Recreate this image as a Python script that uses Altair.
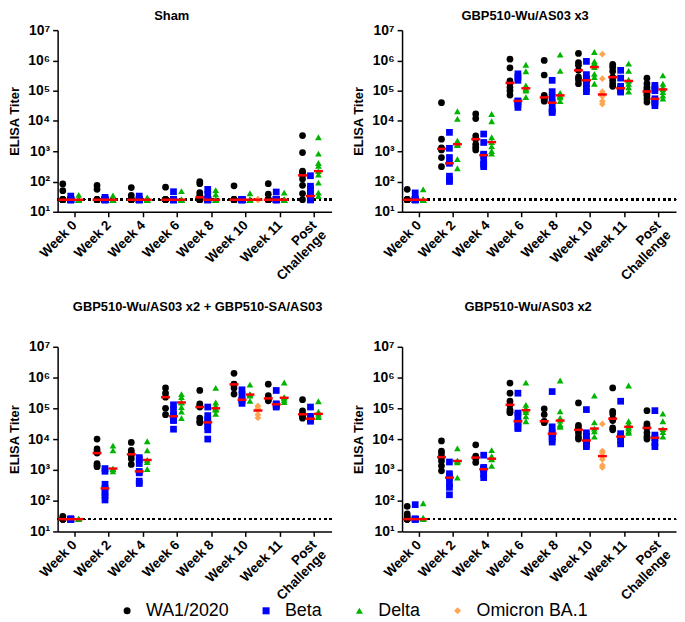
import altair as alt
import pandas as pd

WEEKS = ["Week 0", "Week 2", "Week 4", "Week 6", "Week 8", "Week 10", "Week 11", "Post Challenge"]
VARIANTS = ["WA1/2020", "Beta", "Delta", "Omicron BA.1"]
COLORS = ["#000000", "#0000FF", "#00B400", "#FFA552"]
SHAPES = ["circle", "square", "triangle-up", "diamond"]
TITLES = ["Sham", "GBP510-Wu/AS03 x3", "GBP510-Wu/AS03 x2 + GBP510-SA/AS03", "GBP510-Wu/AS03 x2"]
LOD = 25
Y_TICKS = [10, 100, 1e3, 1e4, 1e5, 1e6, 1e7]

# ---- Sham ----
SHAM_WA1 = [
    [83, 50, 25, 25, 25, 25, 25, 25],
    [74, 55, 25, 25, 25, 25, 25, 25],
    [63, 35, 25, 25, 25, 25, 25, 25],
    [65, 25, 25, 25, 25, 25, 25, 25],
    [100, 85, 43, 35, 30, 25, 25, 25, 25],
    [72, 25, 25, 25, 25, 25, 25, 25],
    [85, 38, 25, 25, 25, 25, 25, 25],
    [3300, 900, 220, 200, 160, 120, 75, 40, 25],
]
SHAM_BETA = [
    [33, 25, 25, 25, 25, 25, 25, 25],
    [30, 25, 25, 25, 25, 25, 25, 25],
    [33, 25, 25, 25, 25, 25, 25, 25],
    [46, 25, 25, 25, 25, 25, 25, 25],
    [55, 38, 25, 25, 25, 25, 25, 25],
    [25, 25, 25, 25, 25, 25, 25, 25],
    [45, 25, 25, 25, 25, 25, 25, 25],
    [155, 70, 55, 40, 33, 25, 25, 25, 25],
]
SHAM_DELTA = [
    [36, 25, 25, 25, 25, 25, 25, 25],
    [35, 25, 25, 25, 25, 25, 25, 25],
    [30, 25, 25, 25, 25, 25, 25, 25],
    [48, 25, 25, 25, 25, 25, 25, 25],
    [52, 38, 25, 25, 25, 25, 25, 25],
    [41, 25, 25, 25, 25, 25, 25, 25],
    [43, 25, 25, 25, 25, 25, 25, 25],
    [2900, 830, 410, 330, 220, 170, 92, 43, 33],
]
SHAM_OMICRON = [[], [], [], [], [], [25, 25, 25, 25, 25, 25], [], []]

# ---- GBP510-Wu/AS03 x3 ----
X3_WA1 = [
    [55, 25, 25, 25, 25, 25, 25],
    [40000, 2500, 1300, 1200, 1100, 620, 310],
    [17000, 12000, 3200, 2500, 1700, 1350, 1100],
    [1.1e6, 5.7e5, 2.1e5, 1.8e5, 1.3e5, 1.0e5, 7.2e4],
    [1.0e6, 3.3e5, 7.0e4, 6.0e4, 5.6e4, 5.0e4, 4.5e4],
    [1.7e6, 8.5e5, 6.9e5, 4.7e5, 2.8e5, 2.3e5, 1.7e5],
    [7.4e5, 6.0e5, 4.4e5, 2.8e5, 2.2e5, 1.7e5, 1.4e5],
    [2.6e5, 1.7e5, 1.3e5, 1.1e5, 9.4e4, 8.0e4, 6.9e4, 5.4e4, 4.2e4],
]
X3_BETA = [
    [42, 25, 25, 25, 25, 25, 25],
    [4200, 1250, 620, 400, 150, 115, 100],
    [3700, 1950, 800, 740, 480, 370, 310],
    [3.6e5, 2.8e5, 2.2e5, 4.6e4, 4.4e4, 3.5e4, 2.8e4],
    [2.2e5, 9.3e4, 6.0e4, 4.0e4, 2.5e4, 2.1e4, 1.9e4],
    [9.3e5, 3.4e5, 2.5e5, 2.2e5, 1.7e5, 1.2e5, 9.3e4],
    [4.7e5, 2.6e5, 1.4e5, 1.2e5, 1.1e5, 1.0e5, 9.0e4],
    [1.5e5, 1.2e5, 1.0e5, 5.4e4, 4.5e4, 4.0e4, 3.2e4],
]
X3_DELTA = [
    [55, 25, 25, 25, 25, 25, 25],
    [21000, 11700, 2250, 1700, 1600, 550, 275],
    [17000, 9800, 2900, 2000, 1450, 1020, 830],
    [7.2e5, 4.4e5, 1.5e5, 1.2e5, 1.1e5, 1.0e5, 6.1e4],
    [1.55e6, 4.5e5, 8.5e4, 7.0e4, 6.8e4, 6.0e4, 4.5e4],
    [1.9e6, 9.3e5, 8.2e5, 6.0e5, 3.6e5, 2.8e5, 1.7e5],
    [7.8e5, 4.5e5, 2.3e5, 2.1e5, 1.7e5, 1.3e5, 9.3e4],
    [3.2e5, 1.7e5, 1.3e5, 1.1e5, 9.0e4, 6.9e4, 5.5e4],
]
X3_OMICRON = [[], [], [], [], [], [1.6e6, 2.5e5, 9.3e4, 7.5e4, 6.5e4, 4.5e4, 3.6e4], [], []]

# ---- GBP510-Wu/AS03 x2 + GBP510-SA/AS03 ----
SA_WA1 = [
    [31, 25, 25, 25, 25],
    [10000, 4800, 4000, 3500, 1600, 1400, 1270],
    [7800, 4300, 3500, 3200, 3000, 2300, 1500],
    [4.6e5, 3.1e5, 2.3e5, 1.0e5, 6.2e4],
    [3.8e5, 1.4e5, 1.2e5, 1.1e5, 4.8e4, 3.8e4, 3.4e4],
    [1.37e6, 6.1e5, 6.0e5, 4.6e5, 2.9e5],
    [6.1e5, 2.6e5, 2.1e5, 1.9e5, 1.75e5],
    [1.9e5, 8.3e4, 6.6e4, 6.2e4, 5.5e4, 4.8e4],
]
SA_BETA = [
    [25, 25, 25, 25, 25],
    [1100, 900, 340, 250, 180, 145, 105],
    [2500, 2200, 1600, 890, 800, 430, 360],
    [1.3e5, 8.9e4, 6.2e4, 5.5e4, 4.3e4, 4.0e4, 2.1e4],
    [1.1e5, 5.8e4, 4.3e4, 3.5e4, 2.6e4, 2.0e4, 1.0e4],
    [4.0e5, 2.8e5, 1.9e5, 1.8e5, 1.45e5],
    [3.8e5, 1.4e5, 1.35e5, 1.2e5, 1.1e5],
    [1.1e5, 5.5e4, 4.6e4, 4.2e4, 3.8e4],
]
SA_DELTA = [
    [25, 25, 25, 25, 25],
    [6100, 4300, 1100, 1050, 900],
    [8500, 4300, 2100, 1800, 1050],
    [2.9e5, 2.3e5, 1.6e5, 1.55e5, 1.1e5, 7.8e4, 4.8e4],
    [4.6e5, 1.55e5, 1.2e5, 1.0e5, 9.5e4, 8.9e4, 6.6e4],
    [5.9e5, 2.9e5, 2.8e5, 2.6e5, 1.75e5],
    [6.9e5, 2.3e5, 2.2e5, 1.9e5, 1.6e5],
    [1.7e5, 7.8e4, 6.6e4, 5.5e4, 5.2e4],
]
SA_OMICRON = [[], [], [], [], [], [1.2e5, 1.0e5, 8.5e4, 6.2e4, 4.9e4], [], []]

# ---- GBP510-Wu/AS03 x2 ----
X2_WA1 = [
    [65, 37, 31, 25, 25, 25, 25],
    [8700, 4100, 3500, 2700, 2500, 1950, 1350, 930],
    [6500, 2800, 2500, 2400, 1750],
    [6.6e5, 3.1e5, 1.7e5, 1.3e5, 9.1e4, 7.8e4, 7.2e4],
    [9.6e4, 6.3e4, 3.8e4, 3.6e4, 3.4e4],
    [1.5e5, 2.8e4, 2.3e4, 2.0e4, 1.6e4, 1.2e4, 1.0e4],
    [4.6e5, 8.0e4, 6.7e4, 4.6e4, 4.0e4, 2.3e4, 2.0e4],
    [8.4e4, 3.1e4, 2.6e4, 2.3e4, 1.6e4, 1.2e4, 1.0e4],
]
X2_BETA = [
    [74, 25, 25, 25, 25],
    [1800, 750, 600, 560, 350, 270, 155],
    [3000, 1200, 1100, 1050, 980, 720, 560],
    [3.1e5, 7.0e4, 6.0e4, 3.8e4, 3.5e4, 2.4e4, 2.2e4],
    [3.5e5, 2.5e4, 1.6e4, 1.5e4, 1.2e4, 1.0e4, 8.0e3],
    [9.1e4, 1.6e4, 1.25e4, 9.0e3, 8.7e3, 6.8e3, 5.7e3],
    [1.7e5, 1.5e4, 1.2e4, 8.7e3, 7.0e3],
    [8.4e4, 1.35e4, 1.1e4, 7.6e3, 5.7e3],
]
X2_DELTA = [
    [82, 28, 25, 25, 25],
    [5000, 2000, 1950, 1750, 560],
    [4400, 2800, 2300, 2200, 1350],
    [6.8e5, 1.3e5, 1.0e5, 8.7e4, 7.6e4, 5.5e4, 3.8e4],
    [8.0e5, 8.0e4, 4.9e4, 4.0e4, 3.0e4, 2.7e4, 2.5e4],
    [2.6e5, 3.5e4, 2.2e4, 1.8e4, 1.2e4],
    [5.5e5, 3.8e4, 3.0e4, 2.5e4, 2.2e4, 1.8e4, 1.6e4],
    [6.7e4, 3.8e4, 2.1e4, 1.7e4, 1.2e4],
]
X2_OMICRON = [[], [], [], [], [], [3.1e4, 4100, 3600, 2800, 2200, 1400, 1200], [], []]


def frame(wa1, beta, delta, omicron):
    rows = []
    for variant, series in zip(VARIANTS, [wa1, beta, delta, omicron]):
        for week, vals in zip(WEEKS, series):
            for v in vals:
                rows.append({"week": week, "variant": variant, "titer": v})
    return pd.DataFrame(rows)


FONT = "Liberation Sans"
SUP = "['\u2070','\u00b9','\u00b2','\u00b3','\u2074','\u2075','\u2076','\u2077']"

LEGEND = alt.Legend(
    title=None, orient="none", direction="horizontal", legendX=61, legendY=576,
    labelFont=FONT, labelFontSize=18, labelColor="black", symbolSize=50,
    columnPadding=28, labelOffset=10, padding=0, symbolStrokeWidth=0,
)


def panel(df, title, width, height, title_offset, title_dx):
    x = alt.X(
        "week:N", sort=WEEKS,
        scale=alt.Scale(domain=WEEKS, paddingInner=0, paddingOuter=0),
        axis=alt.Axis(
            title=None, labelAngle=-45, labelAlign="right", labelBaseline="middle",
            labelPadding=6, labelLineHeight=14,
            labelExpr="datum.value == 'Post Challenge' ? ['Post', 'Challenge'] : datum.value",
        ),
    )
    xo = alt.XOffset(
        "variant:N", sort=VARIANTS,
        scale=alt.Scale(domain=VARIANTS, paddingInner=0, paddingOuter=0.15),
    )
    yscale = alt.Scale(type="log", domain=[10, 1e7], nice=False)
    yaxis = alt.Axis(
        title="ELISA Titer", values=Y_TICKS, grid=False,
        labelExpr="'10' + " + SUP + "[round(log(datum.value) / LN10)]",
    )
    color = alt.Color("variant:N", scale=alt.Scale(domain=VARIANTS, range=COLORS), legend=LEGEND)
    shape = alt.Shape("variant:N", scale=alt.Scale(domain=VARIANTS, range=SHAPES), legend=LEGEND)

    lod = alt.Chart(df).mark_rule(color="black", strokeDash=[1.8, 3.6], strokeWidth=1.8).encode(
        y=alt.datum(LOD)
    )
    pts = alt.Chart(df).mark_point(filled=True, opacity=1, size=46).encode(
        x=x, xOffset=xo, y=alt.Y("titer:Q", scale=yscale, axis=yaxis), color=color, shape=shape
    )
    med = (
        alt.Chart(df)
        .transform_aggregate(med="median(titer)", groupby=["week", "variant"])
        .mark_tick(color="#FF0000", thickness=2.5, size=9, opacity=1)
        .encode(x=x, xOffset=xo, y=alt.Y("med:Q", scale=yscale, axis=yaxis))
    )
    return alt.layer(lod, pts, med).properties(
        width=width, height=height,
        title=alt.TitleParams(title, offset=title_offset, dx=title_dx, font=FONT, fontSize=13,
                              fontWeight="bold", color="black"),
    )


p1 = panel(frame(SHAM_WA1, SHAM_BETA, SHAM_DELTA, SHAM_OMICRON), TITLES[0], 276, 183, 0, -23)
p2 = panel(frame(X3_WA1, X3_BETA, X3_DELTA, X3_OMICRON), TITLES[1], 276, 183, 0, -14)
p3 = panel(frame(SA_WA1, SA_BETA, SA_DELTA, SA_OMICRON), TITLES[2], 276, 186, 26, 3)
p4 = panel(frame(X2_WA1, X2_BETA, X2_DELTA, X2_OMICRON), TITLES[3], 276, 186, 26, -11)

chart = (
    alt.vconcat(
        alt.hconcat(p1, p2, spacing=20),
        alt.hconcat(p3, p4, spacing=20),
        spacing=18,
    )
    .properties(padding={"left": 0, "top": 0, "right": 0, "bottom": 4})
    .configure_view(stroke=None)
    .configure_axis(
        labelFont=FONT, labelFontSize=13.5, labelFontWeight="bold", labelColor="black",
        titleFont=FONT, titleFontSize=13, titleFontWeight="bold", titleColor="black",
        domainColor="black", domainWidth=1.5, tickColor="black", tickWidth=1.5, tickSize=5,
        labelPadding=3,
    )
    .configure_axisY(labelFontSize=14, titlePadding=6)
)

chart.save("out.html", embed_options={"renderer": "svg", "actions": False})
